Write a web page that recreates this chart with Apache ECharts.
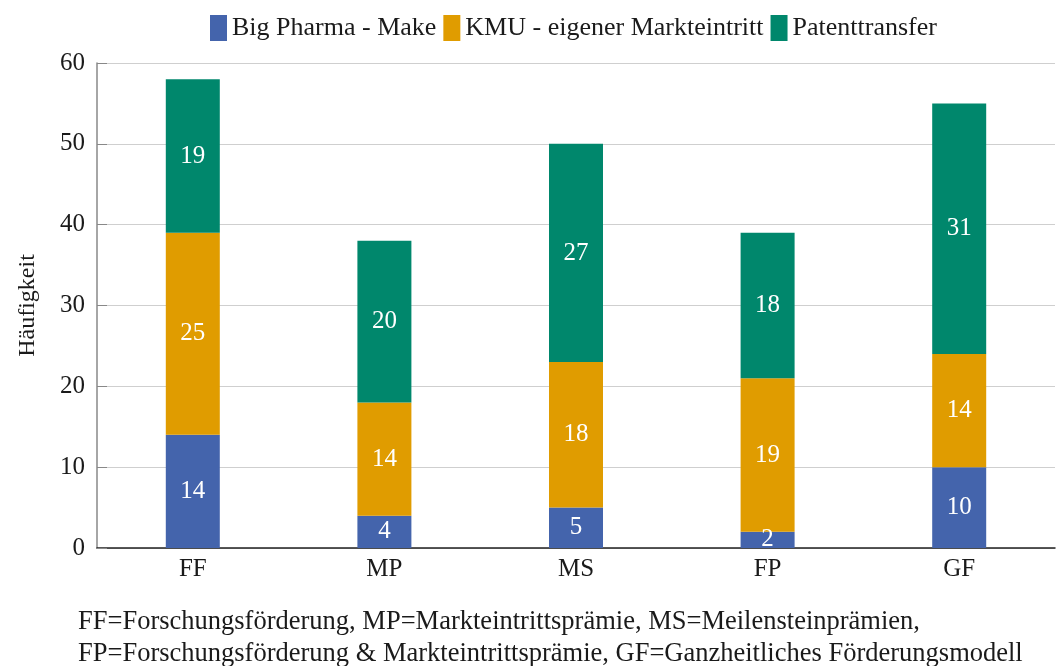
<!DOCTYPE html>
<html>
<head>
    <meta charset="UTF-8">
    <script src="https://cdn.jsdelivr.net/npm/echarts@6/dist/echarts.min.js"></script>
    <style>
        html, body { margin: 0; padding: 0; background: #fff; }
        #main { width: 1058px; height: 666px; }
    </style>
</head>
<body>
<div id="main"></div>
<script type="text/javascript">
    var categories = ['FF', 'MP', 'MS', 'FP', 'GF'];
    var seriesNames = ['Big Pharma - Make', 'KMU - eigener Markteintritt', 'Patenttransfer'];
    var bigPharma = [14, 4, 5, 2, 10];
    var kmu = [25, 14, 18, 19, 14];
    var patent = [19, 20, 27, 18, 31];
    var yTicks = [0, 10, 20, 30, 40, 50, 60];
    var footnote = [
        'FF=Forschungsförderung, MP=Markteintrittsprämie, MS=Meilensteinprämien,',
        'FP=Forschungsförderung & Markteintrittsprämie, GF=Ganzheitliches Förderungsmodell'
    ];

    var font = '"Liberation Serif", "DejaVu Serif", serif';
    var colors = ['#4464ac', '#e09c00', '#00876c'];

    var myChart = echarts.init(document.getElementById('main'));

    function bar(name, data, color) {
        return {
            name: name,
            type: 'bar',
            stack: 'total',
            barWidth: 54,
            data: data,
            itemStyle: {color: color},
            label: {
                show: true,
                position: 'inside',
                color: '#fff',
                fontFamily: font,
                fontSize: 25
            }
        };
    }

    var option = {
        animation: false,
        textStyle: {fontFamily: font},
        legend: {
            top: 10,
            left: 205,
            itemWidth: 17,
            itemHeight: 26,
            itemGap: 7,
            textStyle: {fontFamily: font, fontSize: 26, color: '#1a1a1a'},
            data: seriesNames.map(function (n, i) {
                return {name: n, icon: 'rect', itemStyle: {color: colors[i]}};
            })
        },
        grid: {
            left: 97,
            right: 3,
            top: 63,
            bottom: 118
        },
        xAxis: {
            type: 'category',
            data: categories,
            axisLine: {lineStyle: {color: '#222', width: 1.5}},
            axisTick: {show: false},
            axisLabel: {color: '#1a1a1a', fontFamily: font, fontSize: 25, margin: 9}
        },
        yAxis: {
            type: 'value',
            min: yTicks[0],
            max: yTicks[yTicks.length - 1],
            interval: 10,
            name: 'Häufigkeit',
            nameLocation: 'middle',
            nameGap: 57,
            nameTextStyle: {color: '#1a1a1a', fontFamily: font, fontSize: 24},
            axisLine: {show: true, lineStyle: {color: '#888', width: 1.5}},
            axisTick: {show: true, inside: true, length: 10, lineStyle: {color: '#888'}},
            axisLabel: {color: '#1a1a1a', fontFamily: font, fontSize: 25, margin: 12},
            splitLine: {lineStyle: {color: '#cfcfcf', width: 1}}
        },
        graphic: [{
            type: 'text',
            left: 78,
            top: 606,
            style: {
                text: footnote.join('\n'),
                font: '26.5px ' + font,
                fill: '#1a1a1a',
                lineHeight: 32
            }
        }],
        series: [
            bar(seriesNames[0], bigPharma, colors[0]),
            bar(seriesNames[1], kmu, colors[1]),
            bar(seriesNames[2], patent, colors[2])
        ]
    };

    myChart.setOption(option);
</script>
</body>
</html>
